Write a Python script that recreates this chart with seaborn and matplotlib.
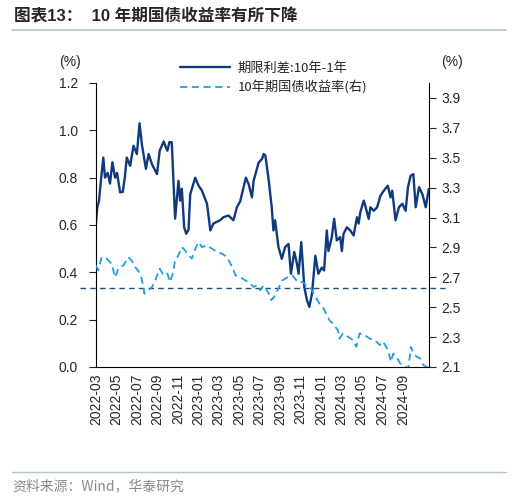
"""10Y CGB yield and 10Y-1Y term spread, twin-axis line chart."""
import matplotlib
matplotlib.use("Agg")
import matplotlib.pyplot as plt
import matplotlib.dates as mdates
from matplotlib.lines import Line2D
import pandas as pd
import seaborn as sns

# term spread 10Y-1Y (left axis, %)
spread_dates = [
    "2022-03-01", "2022-03-05", "2022-03-10", "2022-03-16", "2022-03-23", "2022-03-28",
    "2022-04-05", "2022-04-12", "2022-04-19", "2022-04-27", "2022-05-03", "2022-05-12",
    "2022-05-20", "2022-05-26", "2022-06-01", "2022-06-11", "2022-06-21", "2022-07-01",
    "2022-07-09", "2022-07-16", "2022-07-28", "2022-08-05", "2022-08-15", "2022-08-30",
    "2022-09-07", "2022-09-19", "2022-09-25", "2022-09-30", "2022-10-06", "2022-10-13",
    "2022-10-18", "2022-10-23", "2022-11-02", "2022-11-07", "2022-11-12", "2022-11-19",
    "2022-11-25", "2022-12-02", "2022-12-07", "2022-12-22", "2023-01-01", "2023-01-11",
    "2023-01-26", "2023-02-05", "2023-02-14", "2023-03-06", "2023-03-16", "2023-03-31",
    "2023-04-15", "2023-04-25", "2023-05-05", "2023-05-15", "2023-05-22", "2023-05-30",
    "2023-06-09", "2023-06-14", "2023-06-29", "2023-07-09", "2023-07-14", "2023-07-19",
    "2023-07-28", "2023-08-07", "2023-08-12", "2023-08-17", "2023-08-27", "2023-09-06",
    "2023-09-16", "2023-09-26", "2023-10-03", "2023-10-13", "2023-10-21", "2023-10-26",
    "2023-11-03", "2023-11-12", "2023-11-20", "2023-11-27", "2023-12-05", "2023-12-15",
    "2023-12-24", "2024-01-03", "2024-01-10", "2024-01-18", "2024-01-23", "2024-02-02",
    "2024-02-09", "2024-02-17", "2024-02-27", "2024-03-03", "2024-03-08", "2024-03-18",
    "2024-03-28", "2024-04-07", "2024-04-17", "2024-04-22", "2024-04-27", "2024-05-07",
    "2024-05-12", "2024-05-22", "2024-05-27", "2024-06-06", "2024-06-16", "2024-06-26",
    "2024-07-06", "2024-07-18", "2024-07-26", "2024-07-31", "2024-08-10", "2024-08-20",
    "2024-08-30", "2024-09-09", "2024-09-16", "2024-09-24", "2024-10-02", "2024-10-09",
    "2024-10-19", "2024-10-29", "2024-11-08", "2024-11-17",
]
spread_values = [
    0.606, 0.675, 0.700, 0.790, 0.885, 0.800,
    0.820, 0.775, 0.865, 0.800, 0.820, 0.738,
    0.740, 0.800, 0.885, 0.850, 0.935, 0.900,
    1.030, 0.940, 0.837, 0.900, 0.857, 0.815,
    0.914, 0.953, 0.930, 0.914, 0.950, 0.950,
    0.787, 0.627, 0.787, 0.703, 0.753, 0.590,
    0.563, 0.580, 0.730, 0.800, 0.766, 0.745,
    0.690, 0.577, 0.606, 0.620, 0.633, 0.640,
    0.620, 0.675, 0.700, 0.760, 0.800, 0.773,
    0.717, 0.787, 0.864, 0.879, 0.900, 0.893,
    0.800, 0.675, 0.577, 0.620, 0.507, 0.457,
    0.507, 0.520, 0.394, 0.486, 0.437, 0.394,
    0.528, 0.338, 0.282, 0.254, 0.310, 0.470,
    0.394, 0.420, 0.408, 0.577, 0.490, 0.549,
    0.626, 0.535, 0.549, 0.490, 0.563, 0.590,
    0.577, 0.556, 0.633, 0.606, 0.654, 0.703,
    0.680, 0.626, 0.675, 0.660, 0.675, 0.724,
    0.745, 0.766, 0.717, 0.745, 0.620, 0.675,
    0.690, 0.660, 0.760, 0.808, 0.815, 0.675,
    0.760, 0.730, 0.675, 0.752,
]

# 10Y government bond yield (right axis, %)
yield_dates = [
    "2022-03-01", "2022-03-08", "2022-03-18", "2022-04-02", "2022-04-17", "2022-04-27",
    "2022-05-07", "2022-05-22", "2022-06-06", "2022-06-16", "2022-06-26", "2022-07-11",
    "2022-07-21", "2022-07-23", "2022-08-05", "2022-08-15", "2022-08-25", "2022-09-07",
    "2022-09-19", "2022-09-30", "2022-10-08", "2022-10-16", "2022-10-23", "2022-11-02",
    "2022-11-12", "2022-11-22", "2022-12-02", "2022-12-12", "2022-12-22", "2023-01-01",
    "2023-01-11", "2023-01-26", "2023-02-10", "2023-02-25", "2023-03-12", "2023-03-27",
    "2023-04-11", "2023-04-21", "2023-05-05", "2023-05-20", "2023-06-04", "2023-06-14",
    "2023-06-24", "2023-07-04", "2023-07-14", "2023-07-29", "2023-08-06", "2023-08-14",
    "2023-08-24", "2023-09-08", "2023-09-23", "2023-10-08", "2023-10-23", "2023-11-07",
    "2023-11-22", "2023-12-02", "2023-12-12", "2023-12-27", "2024-01-06", "2024-01-21",
    "2024-01-26", "2024-02-05", "2024-02-20", "2024-02-25", "2024-03-06", "2024-03-21",
    "2024-04-05", "2024-04-15", "2024-04-25", "2024-05-10", "2024-05-25", "2024-06-09",
    "2024-06-24", "2024-07-04", "2024-07-19", "2024-07-27", "2024-08-03", "2024-08-13",
    "2024-08-23", "2024-09-02", "2024-09-17", "2024-09-25", "2024-10-02", "2024-10-12",
    "2024-10-22", "2024-11-01", "2024-11-11", "2024-11-17",
]
yield_values = [
    2.780, 2.747, 2.835, 2.825, 2.790, 2.700,
    2.758, 2.780, 2.835, 2.810, 2.769, 2.725,
    2.635, 2.590, 2.613, 2.635, 2.680, 2.758,
    2.713, 2.725, 2.669, 2.725, 2.813, 2.847,
    2.902, 2.880, 2.847, 2.825, 2.891, 2.935,
    2.902, 2.913, 2.891, 2.869, 2.858, 2.835,
    2.769, 2.713, 2.700, 2.680, 2.658, 2.635,
    2.647, 2.613, 2.647, 2.591, 2.547, 2.569,
    2.613, 2.680, 2.700, 2.713, 2.669, 2.669,
    2.635, 2.625, 2.580, 2.525, 2.502, 2.435,
    2.413, 2.390, 2.347, 2.290, 2.325, 2.302,
    2.280, 2.235, 2.325, 2.313, 2.290, 2.280,
    2.247, 2.269, 2.213, 2.135, 2.190, 2.169,
    2.125, 2.113, 2.090, 2.235, 2.190, 2.169,
    2.158, 2.113, 2.100, 2.095,
]

ref_level = 0.335  # dashed reference line, left-axis units

left_ticks = [0.0, 0.2, 0.4, 0.6, 0.8, 1.0, 1.2]
right_ticks = [2.1, 2.3, 2.5, 2.7, 2.9, 3.1, 3.3, 3.5, 3.7, 3.9]
x_ticks = pd.date_range("2022-03-01", "2024-09-01", freq="2MS")

SPREAD_C = "#0F3A7D"
YIELD_C = "#1EA0E0"
REF_C = "#27497C"

df_spread = pd.DataFrame({"date": pd.to_datetime(spread_dates), "value": spread_values})
df_yield = pd.DataFrame({"date": pd.to_datetime(yield_dates), "value": yield_values})

sns.set_style("white")
plt.rcParams["font.family"] = ["Liberation Sans", "Noto Sans CJK SC", "DejaVu Sans"]
cjk = ["Noto Sans CJK SC", "DejaVu Sans"]

fig = plt.figure(figsize=(5.3, 5.0), dpi=100)
ax = fig.add_axes([0.181, 0.266, 0.628, 0.568])
ax2 = ax.twinx()

sns.lineplot(data=df_spread, x="date", y="value", ax=ax, color=SPREAD_C, linewidth=1.7)
sns.lineplot(data=df_yield, x="date", y="value", ax=ax2, color=YIELD_C, linewidth=1.3,
             linestyle=(0, (4, 2.5)))

# horizontal reference line reaching a little past both spines
ax.plot([-0.048, 1.048], [ref_level, ref_level], transform=ax.get_yaxis_transform(),
        color=REF_C, linewidth=1.0, linestyle=(0, (4, 3)), clip_on=False, zorder=5)

ax.set_xlim(pd.Timestamp("2022-03-01"), pd.Timestamp("2024-11-17"))
ax.set_ylim(0, 1.2)
ax2.set_ylim(2.1, 4.0)
ax.set_yticks(left_ticks)
ax.set_yticklabels([f"{v:.1f}" for v in left_ticks])
ax2.set_yticks(right_ticks)
ax2.set_yticklabels([f"{v:.1f}" for v in right_ticks])
ax.set_xticks(x_ticks)
ax.xaxis.set_major_formatter(mdates.DateFormatter("%Y-%m"))
ax.tick_params(axis="x", rotation=90, direction="inout", length=6, width=0.8,
               labelsize=10, pad=2)
ax.tick_params(axis="y", direction="out", length=5, width=0.8, labelsize=10, pad=8)
ax2.tick_params(axis="y", direction="out", length=5, width=0.8, labelsize=10, pad=4)
ax.set_xlabel("")
ax.set_ylabel("")
ax2.set_ylabel("")

for a in (ax, ax2):
    a.spines["top"].set_visible(False)
    for s in ("left", "right", "bottom"):
        a.spines[s].set_color("black")
        a.spines[s].set_linewidth(0.8)
ax.spines["right"].set_visible(False)
ax2.spines["left"].set_visible(False)
ax2.spines["bottom"].set_visible(False)

fig.text(70 / 530, 1 - 62 / 500, "(%)", fontsize=10, ha="center", va="center")
fig.text(452 / 530, 1 - 62 / 500, "(%)", fontsize=10, ha="center", va="center")

handles = [
    Line2D([], [], color=SPREAD_C, linewidth=1.7),
    Line2D([], [], color=YIELD_C, linewidth=1.3, linestyle=(0, (4, 2.5))),
]
fig.legend(handles, ["期限利差:10年-1年", "10年期国债收益率(右)"],
           loc="upper left", bbox_to_anchor=(168 / 530, 1 - 50 / 500),
           frameon=False, handlelength=3.8, handletextpad=0.6, labelspacing=0.45,
           prop={"family": cjk, "size": 9.5})

fig.text(14 / 530, 1 - 16 / 500, "图表13：  10 年期国债收益率有所下降", fontsize=12,
         fontweight="bold", family=["Liberation Sans", "Noto Sans CJK SC"],
         ha="left", va="center")
fig.add_artist(Line2D([12 / 530, 506 / 530], [1 - 30 / 500, 1 - 30 / 500],
                      color="#B4C3D0", linewidth=1.2))
fig.add_artist(Line2D([12 / 530, 506 / 530], [1 - 472 / 500, 1 - 472 / 500],
                      color="#B4C3D0", linewidth=1.0))
fig.text(12 / 530, 1 - 486 / 500, "资料来源：Wind，华泰研究", fontsize=10, color="#8A8A8A",
         family=["Noto Sans CJK SC", "DejaVu Sans"], ha="left", va="center")

fig.savefig("out.png", dpi=100)
